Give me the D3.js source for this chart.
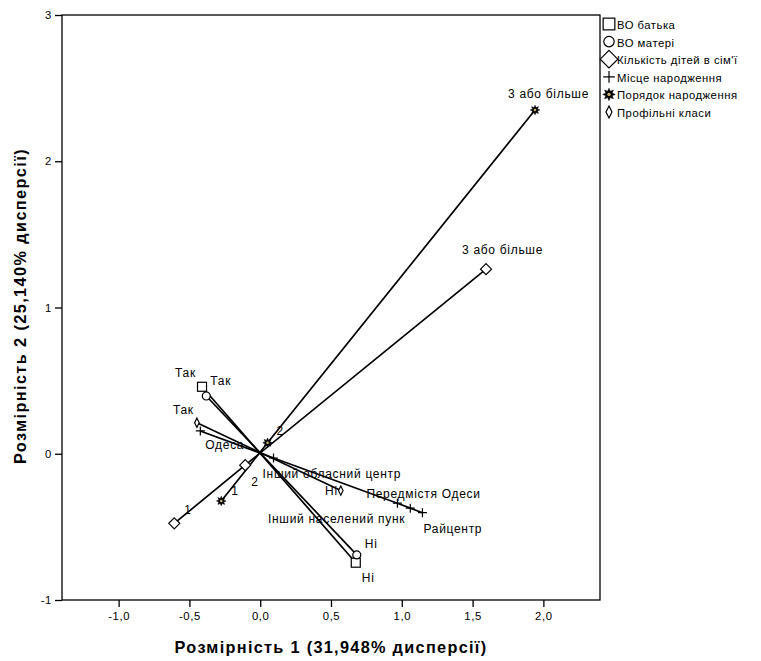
<!DOCTYPE html>
<html>
<head>
<meta charset="utf-8">
<script src="https://cdn.jsdelivr.net/npm/d3@7"></script>
<style>
  html, body { margin: 0; padding: 0; background: #fff; }
  svg { display: block; }
  text { font-family: "Liberation Sans", Arial, sans-serif; fill: #000; }
</style>
</head>
<body>
<svg id="chart" width="761" height="661"></svg>
<script>
// Category quantifications (dimension 1, dimension 2) per variable
const fatherEdu = [
  { cat: "Так", d1: -0.411, d2: 0.458 },
  { cat: "Ні",  d1: 0.675,  d2: -0.745 }
];
const motherEdu = [
  { cat: "Так", d1: -0.381, d2: 0.395 },
  { cat: "Ні",  d1: 0.682,  d2: -0.692 }
];
const childCount = [
  { cat: "1",            d1: -0.607, d2: -0.476 },
  { cat: "2",            d1: -0.106, d2: -0.078 },
  { cat: "3 або більше", d1: 1.595,  d2: 1.262 }
];
const birthPlace = [
  { cat: "Одеса",                d1: -0.423, d2: 0.156 },
  { cat: "Інший обласний центр", d1: 0.094,  d2: -0.029 },
  { cat: "Передмістя Одеси",     d1: 0.969,  d2: -0.338 },
  { cat: "Інший населений пунк", d1: 1.060,  d2: -0.372 },
  { cat: "Райцентр",             d1: 1.146,  d2: -0.403 }
];
const birthOrder = [
  { cat: "1",            d1: -0.275, d2: -0.323 },
  { cat: "2",            d1: 0.052,  d2: 0.075 },
  { cat: "3 або більше", d1: 1.941,  d2: 2.350 }
];
const profileClass = [
  { cat: "Так", d1: -0.447, d2: 0.212 },
  { cat: "Ні",  d1: 0.569,  d2: -0.252 }
];

const variableNames = ["ВО батька", "ВО матері", "Кількість дітей в сім'ї",
                       "Місце народження", "Порядок народження", "Профільні класи"];
const variableData = [fatherEdu, motherEdu, childCount, birthPlace, birthOrder, profileClass];
const markerKinds = ["square", "circle", "diamond", "plus", "star", "thinDiamond"];

const xTicks = [-1.0, -0.5, 0.0, 0.5, 1.0, 1.5, 2.0];
const yTicks = [-1, 0, 1, 2, 3];
const xTitle = "Розмірність 1 (31,948% дисперсії)";
const yTitle = "Розмірність 2 (25,140% дисперсії)";

// Label placement: [dx, dy, anchor] relative to the category marker
const labelPlacement = {
  "0|Так": [-27, -10, "start"], "0|Ні": [6, 19, "start"],
  "1|Так": [4, -11, "start"],   "1|Ні": [8, -7, "start"],
  "2|1": [10, -9, "start"], "2|2": [6, 21, "start"], "2|3 або більше": [-24, -15, "start"],
  "3|Одеса": [5, 18, "start"], "3|Інший обласний центр": [-11, 20, "start"],
  "3|Передмістя Одеси": [-31, -5, "start"], "3|Інший населений пунк": [-5, 15, "end"],
  "3|Райцентр": [1, 20, "start"],
  "4|1": [10, -6, "start"], "4|2": [9, -8, "start"], "4|3 або більше": [-27, -12, "start"],
  "5|Так": [-24, -9, "start"], "5|Ні": [-3, 4, "end"]
};

const svg = d3.select("#chart");
const plot = { left: 62, right: 600, top: 15, bottom: 600 };

const x = d3.scaleLinear().domain([-1.4, 2.4]).range([plot.left, plot.right]);
const y = d3.scaleLinear().domain([-1, 3]).range([plot.bottom, plot.top]);

// Frame
svg.append("rect")
  .attr("x", plot.left).attr("y", plot.top)
  .attr("width", plot.right - plot.left).attr("height", plot.bottom - plot.top)
  .attr("fill", "none").attr("stroke", "#000").attr("stroke-width", 1.3);

const commaFmt = (f) => (v) => f(v).replace(".", ",").replace("−", "-");

// Bottom axis
const xAxis = svg.append("g")
  .attr("transform", `translate(0,${plot.bottom})`)
  .call(d3.axisBottom(x).tickValues(xTicks).tickSize(7).tickPadding(5)
        .tickFormat(commaFmt(d3.format(".1f"))));
xAxis.select(".domain").remove();
xAxis.selectAll("line").attr("stroke", "#000").attr("stroke-width", 1.3);
xAxis.selectAll("text").attr("font-size", 11.3).attr("letter-spacing", 0.6)
  .style("font-family", "'Liberation Sans', Arial, sans-serif");

// Left axis
const yAxis = svg.append("g")
  .attr("transform", `translate(${plot.left},0)`)
  .call(d3.axisLeft(y).tickValues(yTicks).tickSize(7).tickPadding(3)
        .tickFormat(commaFmt(d3.format("d"))));
yAxis.select(".domain").remove();
yAxis.selectAll("line").attr("stroke", "#000").attr("stroke-width", 1.3);
yAxis.selectAll("text").attr("font-size", 11.3).attr("letter-spacing", 0.6)
  .style("font-family", "'Liberation Sans', Arial, sans-serif");

// Axis titles
svg.append("text")
  .attr("x", 331).attr("y", 653)
  .attr("text-anchor", "middle")
  .attr("font-size", 16.3).attr("font-weight", "bold").attr("letter-spacing", 1.3)
  .text(xTitle);
svg.append("text")
  .attr("transform", "translate(26,306) rotate(-90)")
  .attr("text-anchor", "middle")
  .attr("font-size", 16.3).attr("font-weight", "bold").attr("letter-spacing", 1.4)
  .text(yTitle);

// Marker shapes
function starPath(r) {
  const pts = [];
  for (let i = 0; i < 16; i++) {
    const a = (Math.PI * 2 * i) / 16;
    const rr = i % 2 === 0 ? r : r * 0.55;
    pts.push([rr * Math.sin(a), -rr * Math.cos(a)]);
  }
  return "M" + pts.map(p => p.join(",")).join("L") + "Z";
}
function drawMarker(g, kind, s) {
  // s: overall scale factor (1 in plot, larger in legend)
  let el;
  if (kind === "square") {
    const h = 4.5 * s;
    el = g.append("rect").attr("x", -h).attr("y", -h).attr("width", 2 * h).attr("height", 2 * h)
      .attr("fill", "#fff");
  } else if (kind === "circle") {
    el = g.append("circle").attr("r", 4 * s).attr("fill", "#fff");
  } else if (kind === "diamond") {
    const h = 5.5 * s;
    el = g.append("path").attr("d", `M0,${-h}L${h},0L0,${h}L${-h},0Z`).attr("fill", "#fff");
  } else if (kind === "plus") {
    const h = 4.5 * s;
    el = g.append("path").attr("d", `M${-h},0H${h}M0,${-h}V${h}`).attr("fill", "none");
  } else if (kind === "star") {
    g.append("path").attr("d", starPath(4.8 * s)).attr("fill", "#000")
      .attr("stroke", "#000").attr("stroke-width", 0.5);
    g.append("circle").attr("r", 1.3 * s).attr("fill", "#c8b36e");
    return;
  } else if (kind === "thinDiamond") {
    const w = 2.3 * s, h = 4.6 * s;
    el = g.append("path").attr("d", `M0,${-h}L${w},0L0,${h}L${-w},0Z`).attr("fill", "#fff");
  }
  el.attr("stroke", "#000").attr("stroke-width", 1.2);
}

const line = d3.line().x(d => x(d.d1)).y(d => y(d.d2));

// Lines joining the categories of each variable
const lineLayer = svg.append("g");
variableData.forEach((cats) => {
  const ordered = cats.slice().sort((a, b) => a.d1 - b.d1);
  lineLayer.append("path")
    .attr("d", line(ordered))
    .attr("fill", "none").attr("stroke", "#000").attr("stroke-width", 1.7);
});

// Category markers
const markerLayer = svg.append("g");
variableData.forEach((cats, vi) => {
  cats.forEach((c) => {
    const g = markerLayer.append("g").attr("transform", `translate(${x(c.d1)},${y(c.d2)})`);
    drawMarker(g, markerKinds[vi], 1);
  });
});

// Category labels
const labelLayer = svg.append("g");
variableData.forEach((cats, vi) => {
  cats.forEach((c) => {
    const p = labelPlacement[`${vi}|${c.cat}`] || [5, -5, "start"];
    labelLayer.append("text")
      .attr("x", x(c.d1) + p[0]).attr("y", y(c.d2) + p[1])
      .attr("text-anchor", p[2])
      .attr("font-size", 12).attr("letter-spacing", 0.7)
      .text(c.cat);
  });
});

// Legend
const legend = svg.append("g").attr("transform", "translate(609,24)");
variableNames.forEach((name, i) => {
  const row = legend.append("g").attr("transform", `translate(0,${i * 17.6})`);
  const mk = row.append("g");
  drawMarker(mk, markerKinds[i], markerKinds[i] === "diamond" ? 1.6 : 1.3);
  row.append("text").attr("x", 8).attr("y", 5)
    .attr("font-size", 11.3).attr("letter-spacing", 0.5)
    .text(name);
});
</script>
</body>
</html>
